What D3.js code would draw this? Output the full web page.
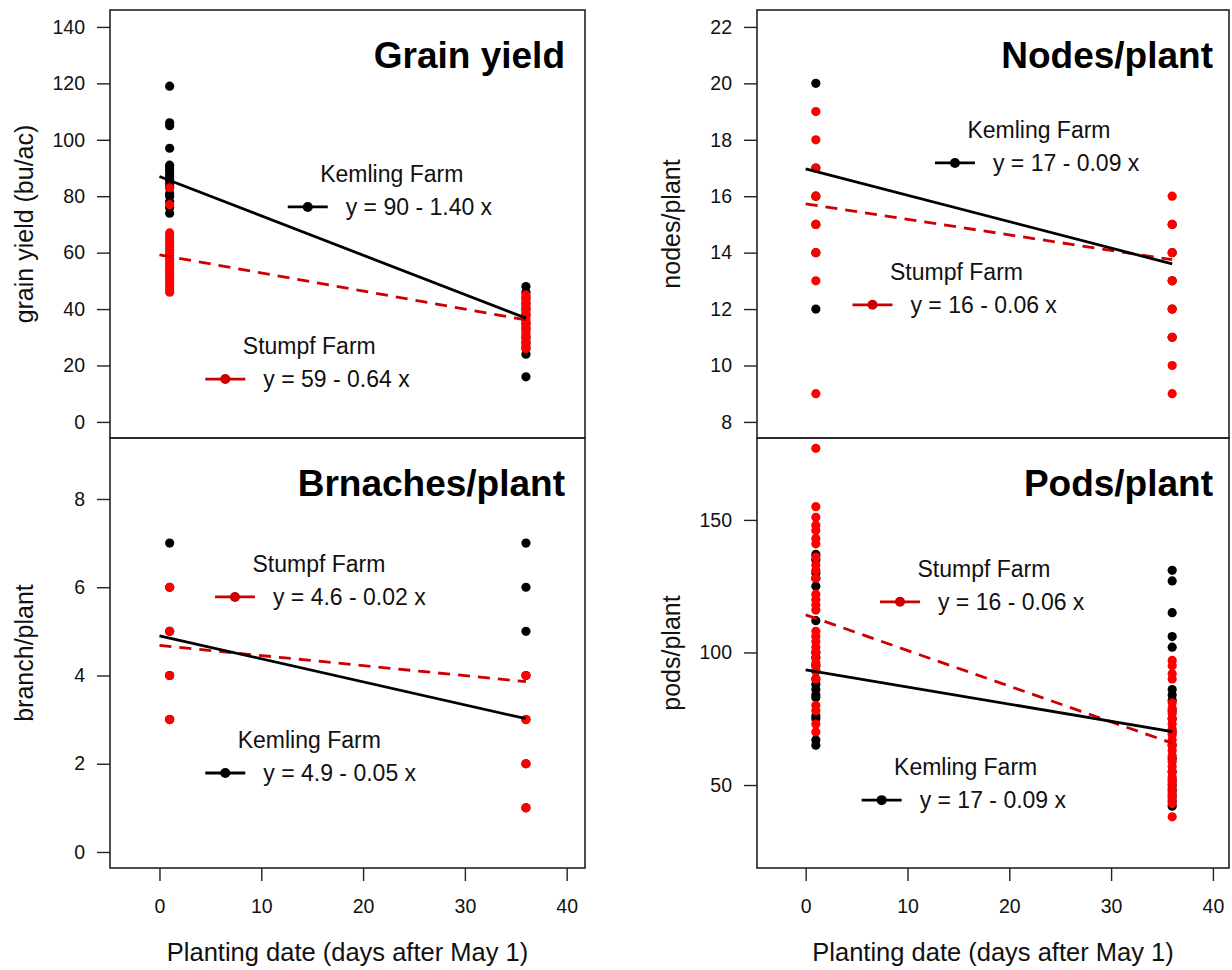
<!DOCTYPE html>
<html>
<head>
<meta charset="utf-8">
<script src="https://cdn.jsdelivr.net/npm/d3@7"></script>
<style>
  html, body { margin: 0; padding: 0; background: #fff; }
  svg { display: block; font-family: "Liberation Sans", Arial, sans-serif; }
</style>
</head>
<body>
<svg id="chart" width="1232" height="970"></svg>
<script>
// ---------------- DATA ----------------
const xTicks = [0, 10, 20, 30, 40];
const xTitle = "Planting date (days after May 1)";
const plantDates = [1, 36];

// Grain yield (bu/ac)
const grainKemlingEarly = [119, 106, 105, 97, 91, 90, 89, 88, 87, 86, 85, 84, 83, 81, 80, 78, 76, 74];
const grainStumpfEarly  = [83, 77, 67, 66, 65, 64, 63, 62, 61, 60, 59, 58, 57, 56, 55, 54, 53, 52, 51, 50, 49, 48, 47, 46];
const grainKemlingLate  = [48, 46, 44, 42, 40, 38, 35, 33, 30, 28, 26, 24, 16];
const grainStumpfLate   = [45, 44, 43, 42, 41, 40, 39, 38, 37, 36, 35, 34, 33, 32, 31, 30, 29, 28, 27, 26];
const grainTicks = [0, 20, 40, 60, 80, 100, 120, 140];
const grainFitKemling = [87.0, -1.395];
const grainFitStumpf  = [59.2, -0.64];
const grainLegendKemling = "y = 90 - 1.40 x";
const grainLegendStumpf  = "y = 59 - 0.64 x";

// Nodes/plant
const nodesKemlingEarly = [20, 17, 16, 15, 14, 12];
const nodesStumpfEarly  = [19, 18, 17, 16, 15, 14, 13, 9];
const nodesKemlingLate  = [15, 14, 13, 12, 11];
const nodesStumpfLate   = [16, 15, 14, 13, 12, 11, 10, 9];
const nodesTicks = [8, 10, 12, 14, 16, 18, 20, 22];
const nodesFitKemling = [16.97, -0.0936];
const nodesFitStumpf  = [15.73, -0.0550];
const nodesLegendKemling = "y = 17 - 0.09 x";
const nodesLegendStumpf  = "y = 16 - 0.06 x";

// Branches/plant
const branchKemlingEarly = [7, 6, 5, 4, 3];
const branchStumpfEarly  = [6, 5, 4, 3];
const branchKemlingLate  = [7, 6, 5, 4, 3, 2, 1];
const branchStumpfLate   = [4, 3, 2, 1];
const branchTicks = [0, 2, 4, 6, 8];
const branchFitKemling = [4.90, -0.0522];
const branchFitStumpf  = [4.68, -0.0228];
const branchLegendKemling = "y = 4.9 - 0.05 x";
const branchLegendStumpf  = "y = 4.6 - 0.02 x";

// Pods/plant
const podsKemlingEarly = [137, 135, 130, 128, 125, 112, 100, 98, 95, 93, 90, 88, 86, 84, 83, 76, 75, 67, 65];
const podsStumpfEarly  = [177, 155, 151, 148, 146, 143, 141, 136, 133, 131, 128, 122, 120, 118, 116, 108, 106, 104, 102, 100, 98, 96, 95, 93, 90, 80, 78, 73, 70];
const podsKemlingLate  = [131, 127, 115, 106, 102, 86, 84, 82, 78, 75, 70, 65, 60, 55, 52, 50, 48, 46, 44, 42];
const podsStumpfLate   = [97, 95, 92, 90, 81, 79, 77, 75, 73, 71, 69, 67, 65, 63, 61, 59, 57, 55, 53, 51, 49, 47, 45, 43, 38];
const podsTicks = [50, 100, 150];
const podsFitKemling = [93.4, -0.645];
const podsFitStumpf  = [114.2, -1.345];
const podsLegendKemling = "y = 17 - 0.09 x";
const podsLegendStumpf  = "y = 16 - 0.06 x";

const farmNames = ["Kemling Farm", "Stumpf Farm"];

// ---------------- LAYOUT ----------------
const colors = { kemling: "#000000", stumpf: "#ff0000", stumpfLine: "#cc0000" };

const panels = [
  { title: "Grain yield", ylab: "grain yield (bu/ac)", box: [110, 10, 585, 438], xDom: [-4.86, 41.8], yDom: [-5.7, 146.0],
    ticks: grainTicks, kE: grainKemlingEarly, sE: grainStumpfEarly, kL: grainKemlingLate, sL: grainStumpfLate,
    fitK: grainFitKemling, fitS: grainFitStumpf, legK: grainLegendKemling, legS: grainLegendStumpf,
    legKpos: [12.6, 76.2], legSpos: [4.5, 15.2], showX: false, titleInset: 20 },
  { title: "Nodes/plant", ylab: "nodes/plant", box: [757, 10, 1229, 438], xDom: [-4.78, 41.58], yDom: [7.43, 22.6],
    ticks: nodesTicks, kE: nodesKemlingEarly, sE: nodesStumpfEarly, kL: nodesKemlingLate, sL: nodesStumpfLate,
    fitK: nodesFitKemling, fitS: nodesFitStumpf, legK: nodesLegendKemling, legS: nodesLegendStumpf,
    legKpos: [12.7, 17.18], legSpos: [4.6, 12.15], showX: false, titleInset: 16 },
  { title: "Brnaches/plant", ylab: "branch/plant", box: [110, 438, 585, 868], xDom: [-4.86, 41.8], yDom: [-0.363, 9.382],
    ticks: branchTicks, kE: branchKemlingEarly, sE: branchStumpfEarly, kL: branchKemlingLate, sL: branchStumpfLate,
    fitK: branchFitKemling, fitS: branchFitStumpf, legK: branchLegendKemling, legS: branchLegendStumpf,
    legKpos: [4.5, 1.79], legSpos: [5.45, 5.78], showX: true, titleInset: 20 },
  { title: "Pods/plant", ylab: "pods/plant", box: [757, 438, 1229, 868], xDom: [-4.78, 41.58], yDom: [18.7, 180.9],
    ticks: podsTicks, kE: podsKemlingEarly, sE: podsStumpfEarly, kL: podsKemlingLate, sL: podsStumpfLate,
    fitK: podsFitKemling, fitS: podsFitStumpf, legK: podsLegendKemling, legS: podsLegendStumpf,
    legKpos: [5.5, 44.3], legSpos: [7.3, 119.1], showX: true, titleInset: 16 }
];

const svg = d3.select("#chart");

panels.forEach(p => {
  const [x0, y0, x1, y1] = p.box;
  const x = d3.scaleLinear().domain(p.xDom).range([x0, x1]);
  const y = d3.scaleLinear().domain(p.yDom).range([y1, y0]);
  const g = svg.append("g");

  // y axis
  const yAxis = d3.axisLeft(y).tickValues(p.ticks).tickSize(13).tickPadding(12).tickFormat(d3.format("d"));
  const ya = g.append("g").attr("transform", `translate(${x0},0)`).call(yAxis);
  ya.select(".domain").remove();
  ya.selectAll("line").attr("stroke", "#222").attr("stroke-width", 1.4);
  ya.selectAll("text").attr("font-size", 19.5).attr("fill", "#111").attr("font-family", "Liberation Sans, Arial, sans-serif");

  // y title
  g.append("text")
    .attr("transform", `translate(${x0 - 86},${(y0 + y1) / 2}) rotate(-90)`)
    .attr("text-anchor", "middle").attr("dominant-baseline", "central")
    .attr("font-size", 25).attr("fill", "#111").text(p.ylab);

  // x axis (bottom panels)
  if (p.showX) {
    const xAxis = d3.axisBottom(x).tickValues(xTicks).tickSize(13).tickPadding(18).tickFormat(d3.format("d"));
    const xa = g.append("g").attr("transform", `translate(0,${y1})`).call(xAxis);
    xa.select(".domain").remove();
    xa.selectAll("line").attr("stroke", "#222").attr("stroke-width", 1.4);
    xa.selectAll("text").attr("font-size", 19.5).attr("fill", "#111").attr("font-family", "Liberation Sans, Arial, sans-serif");
    g.append("text")
      .attr("x", (x0 + x1) / 2).attr("y", 961)
      .attr("text-anchor", "middle").attr("font-size", 25.5).attr("fill", "#111").text(xTitle);
  }

  // points
  const pts = [];
  p.kE.forEach(v => pts.push({ d: plantDates[0], v, c: colors.kemling }));
  p.kL.forEach(v => pts.push({ d: plantDates[1], v, c: colors.kemling }));
  p.sE.forEach(v => pts.push({ d: plantDates[0], v, c: colors.stumpf }));
  p.sL.forEach(v => pts.push({ d: plantDates[1], v, c: colors.stumpf }));
  g.append("g").selectAll("circle").data(pts).join("circle")
    .attr("cx", d => x(d.d)).attr("cy", d => y(d.v)).attr("r", 4.6).attr("fill", d => d.c);

  // regression lines
  const line = d3.line().x(d => x(d[0])).y(d => y(d[1]));
  const fitPts = f => [0, plantDates[1]].map(t => [t, f[0] + f[1] * t]);
  g.append("path").datum(fitPts(p.fitS)).attr("d", line)
    .attr("fill", "none").attr("stroke", colors.stumpfLine).attr("stroke-width", 2.8).attr("stroke-dasharray", "12,8");
  g.append("path").datum(fitPts(p.fitK)).attr("d", line)
    .attr("fill", "none").attr("stroke", colors.kemling).attr("stroke-width", 2.8);

  // legends
  const legend = (pos, name, eq, col) => {
    const lx = x(pos[0]), ly = y(pos[1]);
    const lg = g.append("g");
    lg.append("line").attr("x1", lx).attr("x2", lx + 40).attr("y1", ly).attr("y2", ly)
      .attr("stroke", col).attr("stroke-width", 2.8);
    lg.append("circle").attr("cx", lx + 20).attr("cy", ly).attr("r", 5).attr("fill", col);
    lg.append("text").attr("x", lx + 58).attr("y", ly).attr("dominant-baseline", "central")
      .attr("font-size", 23).attr("fill", "#111").text(eq);
    lg.append("text").attr("x", lx + 104).attr("y", ly - 33).attr("dominant-baseline", "central")
      .attr("text-anchor", "middle").attr("font-size", 23).attr("fill", "#111").text(name);
  };
  legend(p.legKpos, farmNames[0], p.legK, colors.kemling);
  legend(p.legSpos, farmNames[1], p.legS, colors.stumpfLine);

  // title
  g.append("text").attr("x", x1 - p.titleInset).attr("y", y0 + 58)
    .attr("text-anchor", "end").attr("font-size", 37).attr("font-weight", "bold").attr("fill", "#000").text(p.title);

  // box
  g.append("rect").attr("x", x0).attr("y", y0).attr("width", x1 - x0).attr("height", y1 - y0)
    .attr("fill", "none").attr("stroke", "#222").attr("stroke-width", 1.6);
});
</script>
</body>
</html>
